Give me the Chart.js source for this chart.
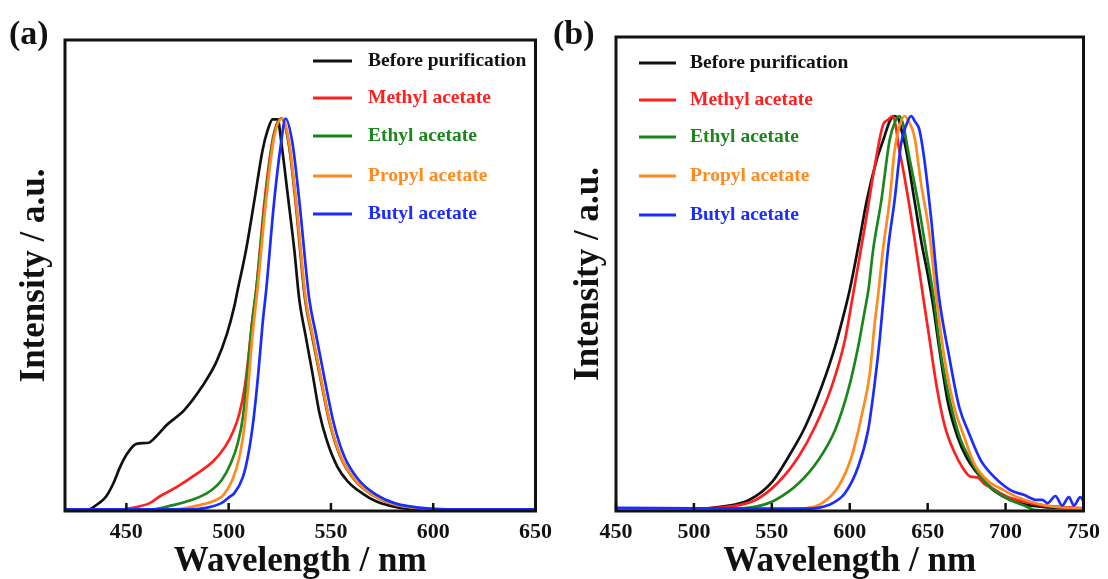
<!DOCTYPE html>
<html>
<head>
<meta charset="utf-8">
<script src="https://cdn.jsdelivr.net/npm/chart.js@4.4.0/dist/chart.umd.min.js"></script>
<style>
  html, body { margin:0; padding:0; background:#fff; }
  #wrap { position:relative; width:1108px; height:579px; overflow:hidden; }
  .panel { position:absolute; top:0; height:579px; }
  #pa { left:0; width:560px; }
  #pb { left:560px; width:548px; }
  .tag { position:absolute; top:16px; font:bold 34px 'Liberation Serif', 'Times New Roman', serif; line-height:1; color:#111; }
</style>
</head>
<body>
<div id="wrap">
  <div class="panel" id="pa"><canvas id="chartA" width="560" height="579"></canvas></div>
  <div class="panel" id="pb"><canvas id="chartB" width="548" height="579"></canvas></div>
  <div class="tag" style="left:9px">(a)</div>
  <div class="tag" style="left:553px">(b)</div>
</div>
<script>
// ── DATA ────────────────────────────────────────────────
const seriesNames = ['Before purification', 'Methyl acetate', 'Ethyl acetate', 'Propyl acetate', 'Butyl acetate'];

const ticksA = [450, 500, 550, 600, 650];
const ticksB = [450, 500, 550, 600, 650, 700, 750];

// panel (a) — green emission
const wlA_before  = [420, 431, 436.6, 440.1, 443.6, 447, 450.5, 454.9, 461, 464.4, 469.7, 478.3, 487, 494, 499.2, 502.7, 504.4, 508.5, 512.6, 516.6, 519.1, 521.5, 524, 525.6, 529.2, 532.1, 534.5, 537.5, 541, 544.4, 547.9, 553.1, 558.3, 565.3, 572.3, 582.7, 596.6, 620, 650];
const intA_before = [0, 0.003, 0.02, 0.037, 0.07, 0.113, 0.147, 0.171, 0.174, 0.189, 0.219, 0.257, 0.317, 0.38, 0.452, 0.52, 0.563, 0.665, 0.792, 0.92, 0.971, 0.998, 0.998, 0.945, 0.792, 0.665, 0.54, 0.45, 0.35, 0.249, 0.181, 0.113, 0.075, 0.045, 0.024, 0.009, 0.003, 0.001, 0];

const wlA_methyl  = [420, 445, 451.7, 461.4, 466.2, 474.9, 483.6, 492.3, 498.3, 501.8, 505.3, 507.9, 509.7, 511.4, 513.4, 517.6, 521.8, 525.8, 529.3, 532.6, 537.3, 540.6, 545, 549.4, 554.6, 561.5, 570.2, 579, 593, 620, 650];
const intA_methyl = [0, 0.002, 0.007, 0.02, 0.037, 0.062, 0.092, 0.126, 0.164, 0.198, 0.249, 0.317, 0.393, 0.478, 0.56, 0.792, 0.954, 1.0, 0.937, 0.792, 0.54, 0.45, 0.334, 0.223, 0.138, 0.079, 0.041, 0.02, 0.007, 0.002, 0];

const wlA_ethyl  = [420, 460, 472.8, 481.8, 490.5, 496.6, 501, 504.4, 507, 509.1, 511.4, 513.6, 517.9, 522, 526, 529.4, 532.8, 537.5, 540.8, 545.2, 549.6, 554.8, 561.7, 570.4, 579.1, 593, 620, 650];
const intA_ethyl = [0, 0.002, 0.015, 0.028, 0.049, 0.079, 0.121, 0.172, 0.24, 0.351, 0.478, 0.57, 0.792, 0.954, 1.0, 0.937, 0.792, 0.54, 0.45, 0.334, 0.223, 0.138, 0.079, 0.041, 0.02, 0.007, 0.002, 0];

const wlA_propyl  = [420, 470, 485.8, 493.9, 497.5, 501.8, 505.3, 507.9, 509.7, 511.5, 514, 518.3, 522.3, 526.3, 529.6, 532.9, 537.7, 541, 545.3, 549.7, 554.9, 561.8, 570.5, 579.2, 593.1, 620, 650];
const intA_propyl = [0, 0.002, 0.015, 0.028, 0.041, 0.079, 0.138, 0.223, 0.325, 0.44, 0.56, 0.792, 0.954, 1.0, 0.937, 0.792, 0.54, 0.45, 0.334, 0.223, 0.138, 0.079, 0.041, 0.02, 0.007, 0.002, 0];

const wlA_butyl  = [420, 480, 489, 496.4, 500.4, 502.7, 507, 509.7, 512.3, 514.5, 516.6, 518.3, 522.3, 525.6, 527.8, 531.2, 534.5, 539.4, 542.7, 547, 551.4, 556.6, 563.6, 572.3, 581, 596.6, 620, 650];
const intA_butyl = [0.004, 0.004, 0.008, 0.02, 0.036, 0.045, 0.087, 0.147, 0.24, 0.351, 0.478, 0.56, 0.792, 0.937, 1.0, 0.937, 0.792, 0.54, 0.45, 0.334, 0.223, 0.138, 0.079, 0.041, 0.02, 0.007, 0.004, 0.004];

// panel (b) — red emission
const wlB_before  = [450, 500, 518.3, 535.4, 550.2, 560.8, 571.5, 582, 590.6, 596.9, 600, 605.5, 611, 617, 622, 625.5, 628.5, 631, 633.5, 636.2, 641.5, 646, 650, 653.5, 657.5, 663, 669, 675, 681, 687, 693, 703, 713, 725, 738, 750];
const intB_before = [0.006, 0.005, 0.011, 0.028, 0.074, 0.138, 0.214, 0.315, 0.416, 0.509, 0.56, 0.67, 0.787, 0.885, 0.945, 0.985, 1.0, 0.995, 0.96, 0.914, 0.787, 0.68, 0.6, 0.52, 0.41, 0.275, 0.19, 0.135, 0.1, 0.072, 0.05, 0.028, 0.016, 0.01, 0.008, 0.006];

const wlB_methyl  = [450, 480, 505, 522.6, 539.6, 554.5, 567.2, 577.8, 588.4, 596.9, 602, 609.7, 616, 621.3, 624.5, 627.7, 629.5, 631.5, 634, 639.4, 643.6, 647, 651, 656, 661, 667, 673.4, 677.6, 682, 686.5, 690.3, 701, 711.6, 722.2, 732.8, 741, 750];
const intB_methyl = [0.006, 0.005, 0.006, 0.011, 0.028, 0.074, 0.138, 0.214, 0.315, 0.433, 0.545, 0.72, 0.872, 0.977, 0.99, 1.0, 0.975, 0.92, 0.87, 0.745, 0.636, 0.545, 0.44, 0.31, 0.215, 0.15, 0.104, 0.087, 0.085, 0.068, 0.06, 0.036, 0.024, 0.015, 0.011, 0.009, 0.007];

const wlB_ethyl  = [450, 520, 539.6, 552.3, 567.2, 579.9, 590.6, 599, 605.4, 609.7, 612, 615, 620.3, 625.6, 629, 632, 634.5, 637.3, 643.6, 648.9, 653.5, 658.4, 664.8, 671.2, 677.6, 684, 692.5, 703.1, 713.7, 718, 730, 750];
const intB_ethyl = [0.006, 0.005, 0.011, 0.028, 0.07, 0.129, 0.205, 0.306, 0.416, 0.509, 0.56, 0.661, 0.787, 0.939, 0.985, 1.0, 0.975, 0.914, 0.787, 0.661, 0.55, 0.4, 0.27, 0.18, 0.129, 0.087, 0.053, 0.028, 0.011, 0.003, 0.001, 0];

const wlB_propyl  = [450, 540, 571.5, 582, 592.7, 601.2, 607.5, 612.9, 616, 618, 621.3, 625.6, 628.8, 632, 635.2, 638, 641.5, 645.7, 651.1, 655.3, 660.6, 667, 673.4, 679.7, 688.2, 698.8, 709.4, 720, 730.7, 740, 750];
const intB_propyl = [0.006, 0.005, 0.007, 0.019, 0.062, 0.138, 0.239, 0.349, 0.475, 0.54, 0.661, 0.787, 0.914, 0.975, 1.0, 0.985, 0.948, 0.83, 0.703, 0.55, 0.391, 0.264, 0.188, 0.121, 0.078, 0.053, 0.032, 0.019, 0.011, 0.008, 0.005];

const wlB_butyl  = [450, 500, 550, 573.6, 586.3, 596.9, 605.4, 611.8, 616, 619.2, 621.8, 624.5, 628.8, 633, 636.5, 639.4, 642, 644.7, 647.9, 652.1, 657, 663.8, 670.2, 676.5, 684, 692.5, 703.1, 711.6, 720, 723.5, 727, 732, 736.3, 740.6, 743.8, 748, 750];
const intB_butyl = [0.008, 0.007, 0.006, 0.006, 0.015, 0.045, 0.112, 0.205, 0.323, 0.433, 0.545, 0.661, 0.787, 0.931, 0.98, 1.0, 0.985, 0.965, 0.889, 0.745, 0.55, 0.391, 0.264, 0.197, 0.129, 0.087, 0.053, 0.041, 0.028, 0.028, 0.02, 0.038, 0.014, 0.035, 0.014, 0.035, 0.025];

// ── STYLE ───────────────────────────────────────────────
const COLORS = ['#111111', '#ff1f1f', '#1c861c', '#ff8a1e', '#1a2cff'];
const SERIF  = "'Liberation Serif', 'Times New Roman', serif";

// box round the plot + inward ticks on the bottom axis
const framePlugin = {
  id: 'frame',
  afterDatasetsDraw(chart) {
    const { ctx, chartArea: a, scales: { x } } = chart;
    ctx.save();
    ctx.strokeStyle = '#111';
    ctx.lineWidth = 3;
    ctx.strokeRect(a.left, a.top, a.right - a.left, a.bottom - a.top);
    ctx.lineWidth = 2.5;
    x.ticks.forEach(t => {
      const px = x.getPixelForValue(t.value);
      ctx.beginPath();
      ctx.moveTo(px, a.bottom);
      ctx.lineTo(px, a.bottom - 8);
      ctx.stroke();
    });
    ctx.restore();
  }
};

// legend drawn inside the plot area
const legendPlugin = {
  id: 'inLegend',
  afterDraw(chart, args, opts) {
    const ctx = chart.ctx;
    ctx.save();
    ctx.font = `bold ${opts.size}px ${SERIF}`;
    ctx.textBaseline = 'middle';
    chart.data.datasets.forEach((ds, i) => {
      const y = opts.ys[i];
      ctx.strokeStyle = ds.borderColor;
      ctx.lineWidth = 3;
      ctx.beginPath();
      ctx.moveTo(opts.x, y);
      ctx.lineTo(opts.x + opts.len, y);
      ctx.stroke();
      ctx.fillStyle = ds.borderColor;
      ctx.fillText(ds.label, opts.textX, y);
    });
    ctx.restore();
  }
};

const buildChart = (id, wls, ints, range, ticks, geo) => {
  const datasets = seriesNames.map((name, i) => ({
    label: name,
    data: wls[i].map((x, k) => ({ x, y: ints[i][k] })),
    borderColor: COLORS[i],
    borderWidth: 2.7,
    pointRadius: 0,
    cubicInterpolationMode: 'monotone',
    fill: false,
    order: seriesNames.length - i,
  }));

  return new Chart(document.getElementById(id), {
    type: 'line',
    data: { datasets },
    plugins: [framePlugin, legendPlugin],
    options: {
      responsive: false,
      animation: false,
      layout: { padding: { left: 0, top: geo.top, right: geo.right, bottom: 0 } },
      plugins: {
        legend: { display: false },
        tooltip: { enabled: false },
        inLegend: geo.legend,
      },
      scales: {
        x: {
          type: 'linear', min: range[0], max: range[1],
          afterBuildTicks: s => { s.ticks = ticks.map(v => ({ value: v })); },
          afterFit: s => { s.height = geo.xAxisH; },
          grid: { display: false, drawTicks: false },
          border: { display: false },
          ticks: {
            padding: 8, maxRotation: 0, autoSkip: false, color: '#111',
            font: { family: SERIF, size: 22, weight: 'bold' },
          },
          title: {
            display: true, text: 'Wavelength / nm', color: '#111',
            font: { family: SERIF, size: 35, weight: 'bold', lineHeight: 1 },
            padding: { top: 0, bottom: 0 },
          },
        },
        y: {
          min: 0, max: 1.2,
          afterFit: s => { s.width = geo.left; },
          grid: { display: false, drawTicks: false },
          border: { display: false },
          ticks: { display: false },
          title: {
            display: true, text: 'Intensity / a.u.', color: '#111',
            font: { family: SERIF, size: 35, weight: 'bold', lineHeight: 1 },
            padding: { top: geo.yTitlePad, bottom: 0 },
          },
        },
      },
    },
  });
};

// ── START ───────────────────────────────────────────────
buildChart('chartA',
  [wlA_before, wlA_methyl, wlA_ethyl, wlA_propyl, wlA_butyl],
  [intA_before, intA_methyl, intA_ethyl, intA_propyl, intA_butyl],
  [420, 650], ticksA,
  { top: 40, right: 23, left: 65, xAxisH: 68, yTitlePad: 17,
    legend: { x: 313, len: 39, textX: 368, size: 19.5, ys: [61, 98, 136, 176, 214] } });

buildChart('chartB',
  [wlB_before, wlB_methyl, wlB_ethyl, wlB_propyl, wlB_butyl],
  [intB_before, intB_methyl, intB_ethyl, intB_propyl, intB_butyl],
  [450, 750], ticksB,
  { top: 37, right: 21, left: 56, xAxisH: 68, yTitlePad: 11,
    legend: { x: 79, len: 37, textX: 130, size: 19.5, ys: [63, 100, 137, 176, 215] } });
</script>
</body>
</html>
